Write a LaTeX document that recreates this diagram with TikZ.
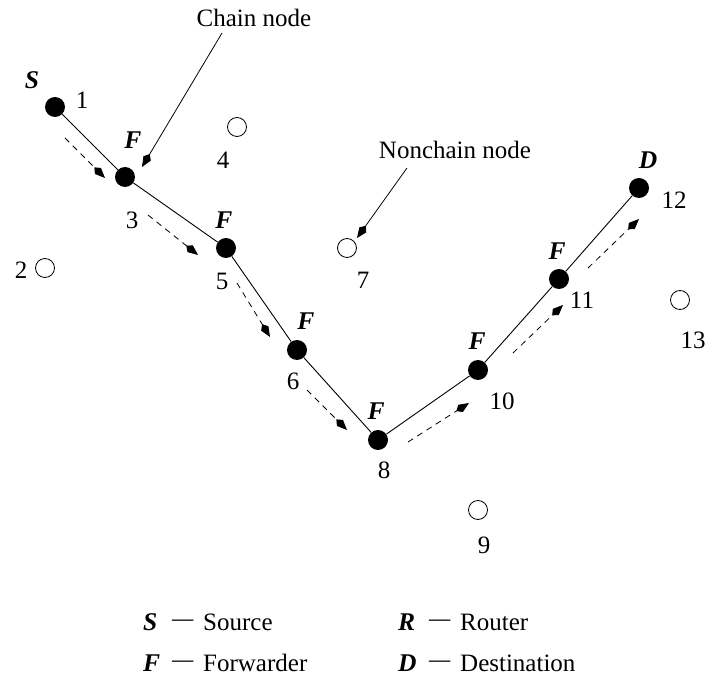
\documentclass[tikz,border=0pt]{standalone}
\usepackage{fontspec}
\setmainfont{Liberation Serif}
\usetikzlibrary{arrows.meta}
\begin{document}
\begin{tikzpicture}[x=1pt,y=-1pt,
  chainnode/.style={circle,fill=black,inner sep=0pt,minimum size=20pt},
  freenode/.style={circle,draw=black,line width=0.8pt,inner sep=0pt,minimum size=19pt},
  lbl/.style={inner sep=0pt,font=\fontsize{25}{30}\selectfont},
  role/.style={inner sep=0pt,font=\fontsize{25.5}{30}\selectfont\bfseries\itshape},
  link/.style={line width=0.9pt},
  flow/.style={line width=0.8pt,dash pattern=on 6pt off 5pt,-{Kite[length=15pt,width=8.5pt,inset=5pt]}},
  pointer/.style={line width=0.8pt,-{Kite[length=15pt,width=8.5pt,inset=5pt]}},
  dashmark/.style={inner sep=0pt,font=\fontsize{25}{30}\selectfont}]
\useasboundingbox (0,0) rectangle (707,676);

% chain nodes
\node[chainnode] (n1) at (55,107) {};
\node[chainnode] (n3) at (125,177) {};
\node[chainnode] (n5) at (226,248) {};
\node[chainnode] (n6) at (297,350) {};
\node[chainnode] (n8) at (378,440) {};
\node[chainnode] (n10) at (478,370) {};
\node[chainnode] (n11) at (559,279) {};
\node[chainnode] (n12) at (639,188) {};

% non-chain nodes
\node[freenode] (n2) at (45,268) {};
\node[freenode] (n4) at (237,127) {};
\node[freenode] (n7) at (347,248) {};
\node[freenode] (n9) at (478,510) {};
\node[freenode] (n13) at (680,300) {};

% links
\draw[link] (n1) -- (n3) -- (n5) -- (n6) -- (n8) -- (n10) -- (n11) -- (n12);

% numbers
\node[lbl] (t1) at (82,100) {1};
\node[lbl] (t2) at (21,270) {2};
\node[lbl] (t3) at (132,220) {3};
\node[lbl] (t4) at (223,160) {4};
\node[lbl] (t5) at (222,281) {5};
\node[lbl] (t6) at (293,381) {6};
\node[lbl] (t7) at (363,280) {7};
\node[lbl] (t8) at (384,470) {8};
\node[lbl] (t9) at (484,545) {9};
\node[lbl] (t10) at (502,401) {10};
\node[lbl] (t11) at (582,300) {11};
\node[lbl] (t12) at (674,200) {12};
\node[lbl] (t13) at (693,340) {13};

% roles
\node[role] (rS) at (32,80) {S};
\node[role] (rF3) at (133,140) {F};
\node[role] (rF5) at (224,220) {F};
\node[role] (rF6) at (306,321) {F};
\node[role] (rF8) at (376,411) {F};
\node[role] (rF10) at (477,341) {F};
\node[role] (rF11) at (557,251) {F};
\node[role] (rD) at (648,160) {D};

% flow arrows
\coordinate (a1s) at (65,138);  \coordinate (a1e) at (105,178);
\coordinate (a2s) at (148,215); \coordinate (a2e) at (198,255);
\coordinate (a3s) at (237,283); \coordinate (a3e) at (270,337);
\coordinate (a4s) at (307,390); \coordinate (a4e) at (347,430);
\coordinate (a5s) at (408,442); \coordinate (a5e) at (469,403);
\coordinate (a6s) at (513,353); \coordinate (a6e) at (563,305);
\coordinate (a7s) at (588,268); \coordinate (a7e) at (639,219);
\draw[flow] (a1s) -- (a1e);
\draw[flow] (a2s) -- (a2e);
\draw[flow] (a3s) -- (a3e);
\draw[flow] (a4s) -- (a4e);
\draw[flow] (a5s) -- (a5e);
\draw[flow] (a6s) -- (a6e);
\draw[flow] (a7s) -- (a7e);

% pointers
\node[lbl] (chaintxt) at (254,18) {Chain node};
\node[lbl] (nonchaintxt) at (455,150) {Nonchain node};
\coordinate (p1s) at (222,33);  \coordinate (p1e) at (142,167);
\coordinate (p2s) at (407,168); \coordinate (p2e) at (357,238);
\draw[pointer] (p1s) -- (p1e);
\draw[pointer] (p2s) -- (p2e);

% legend
\node[role,anchor=base west] (lS) at (143,630) {S};
\node[dashmark,anchor=base west] (dS) at (172,630) {\raisebox{4pt}{\scalebox{0.85}[1]{—}}};
\node[lbl,anchor=base west] (wS) at (203,630) {Source};
\node[role,anchor=base west] (lR) at (398,630) {R};
\node[dashmark,anchor=base west] (dR) at (429,630) {\raisebox{4pt}{\scalebox{0.85}[1]{—}}};
\node[lbl,anchor=base west] (wR) at (460,630) {Router};
\node[role,anchor=base west] (lF) at (143,671) {F};
\node[dashmark,anchor=base west] (dF) at (172,671) {\raisebox{4pt}{\scalebox{0.85}[1]{—}}};
\node[lbl,anchor=base west] (wF) at (203,671) {Forwarder};
\node[role,anchor=base west] (lD) at (398,671) {D};
\node[dashmark,anchor=base west] (dD) at (429,671) {\raisebox{4pt}{\scalebox{0.85}[1]{—}}};
\node[lbl,anchor=base west] (wD) at (460,671) {Destination};
\end{tikzpicture}
\end{document}
